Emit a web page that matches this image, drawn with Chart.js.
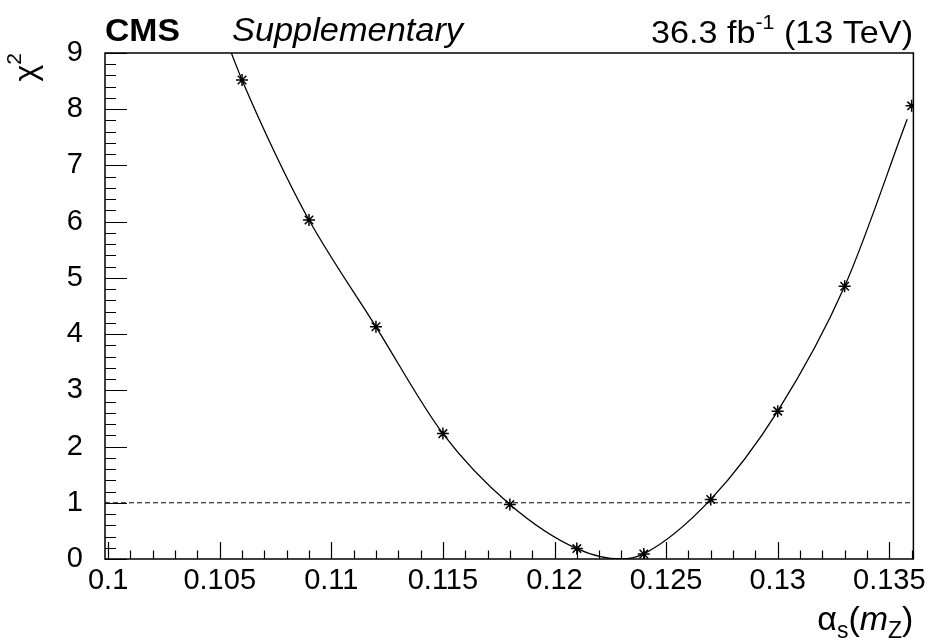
<!DOCTYPE html>
<html><head><meta charset="utf-8">
<script src="https://cdn.jsdelivr.net/npm/chart.js@4.4.1/dist/chart.umd.min.js"></script>
<style>html,body{margin:0;padding:0;background:#fff}#wrap{width:931px;height:641px;position:relative}</style>
</head><body><div id="wrap"><canvas id="c" width="931" height="641"></canvas></div>
<script>
// ---- data ----
const alphaS = [0.106, 0.109, 0.112, 0.115, 0.118, 0.121, 0.124, 0.127, 0.130, 0.133, 0.136];
const chi2   = [8.52, 6.03, 4.13, 2.23, 0.97, 0.185, 0.09, 1.06, 2.63, 4.85, 8.06];
const curveX = [0.10552, 0.106, 0.1075, 0.109, 0.112, 0.115, 0.118, 0.121, 0.1230, 0.124, 0.127, 0.130, 0.133, 0.1358];
const curveY = [9.0, 8.52, 7.20, 6.03, 4.13, 2.23, 0.97, 0.185, 0.0, 0.09, 1.06, 2.63, 4.85, 7.82];
const xRange = [0.09986, 0.13608];
const yRange = [0, 9];
const refLineY = [1, 1];
const xTicks = [0.1, 0.105, 0.11, 0.115, 0.12, 0.125, 0.13, 0.135];
const xTickLabels = ['0.1', '0.105', '0.11', '0.115', '0.12', '0.125', '0.13', '0.135'];
const yTicks = [0, 1, 2, 3, 4, 5, 6, 7, 8, 9];
const yTickLabels = ['0', '1', '2', '3', '4', '5', '6', '7', '8', '9'];

const F = '"Liberation Sans", Arial, Helvetica, sans-serif';

const decor = {
  id: 'decor',
  afterDraw(chart) {
    const { ctx, chartArea: a, scales: { x, y } } = chart;
    ctx.save();
    ctx.strokeStyle = '#000';
    ctx.lineWidth = 1.2;
    ctx.beginPath();
    const xs = xTicks[1] - xTicks[0];
    for (let v = xTicks[0] - xs; v <= xRange[1] + 1e-9; v += xs / 5) {
      if (v < xRange[0] - 1e-9) continue;
      const k = Math.round((v - xTicks[0]) / (xs / 5));
      const major = k % 5 === 0;
      const px = Math.round(x.getPixelForValue(v)) + 0.5;
      ctx.moveTo(px, a.bottom);
      ctx.lineTo(px, a.bottom - (major ? 17 : 8.5));
    }
    const ys = yTicks[1] - yTicks[0];
    for (let v = yRange[0]; v <= yRange[1] + 1e-9; v += ys / 5) {
      const k = Math.round((v - yTicks[0]) / (ys / 5));
      const major = k % 5 === 0;
      const py = Math.round(y.getPixelForValue(v)) + 0.5;
      ctx.moveTo(a.left, py);
      ctx.lineTo(a.left + (major ? 22 : 11), py);
    }
    ctx.stroke();
    ctx.lineWidth = 1.5;
    ctx.strokeRect(a.left, a.top, a.right - a.left, a.bottom - a.top);

    ctx.fillStyle = '#000';
    ctx.textBaseline = 'alphabetic';
    stretch(ctx, [['CMS', 'bold 32px ' + F, 0]], a.left, 41, 75);
    stretch(ctx, [['Supplementary', 'italic 33px ' + F, 0]], 232, 41, 231);
    stretch(ctx, [['36.3 fb', '32px ' + F, 0], ['-1', '20px ' + F, -14], [' (13 TeV)', '32px ' + F, 0]], 651, 43, 262);

    // y title chi^2 (rotated)
    ctx.save();
    ctx.translate(36, a.top);
    ctx.rotate(-Math.PI / 2);
    ctx.font = '32px ' + F;
    const wchi = ctx.measureText('χ').width;
    ctx.font = '21px ' + F;
    const w2 = ctx.measureText('2').width;
    ctx.textAlign = 'left';
    ctx.font = '32px ' + F;
    ctx.fillText('χ', -(wchi + w2), 0);
    ctx.font = '21px ' + F;
    ctx.fillText('2', -w2, -15);
    ctx.restore();

    // x title alpha_s(m_Z)
    const parts = [['α', '34px ' + F, 0], ['s', '23px ' + F, 8], ['(', '34px ' + F, 0], ['m', 'italic 34px ' + F, 0], ['Z', '23px ' + F, 8], [')', '34px ' + F, 0]];
    let tot = 0;
    for (const p of parts) { ctx.font = p[1]; tot += ctx.measureText(p[0]).width; }
    let cx = a.right - tot;
    for (const p of parts) { ctx.font = p[1]; ctx.fillText(p[0], cx, 630 + p[2]); cx += ctx.measureText(p[0]).width; }
    ctx.restore();
  }
};

function stretch(ctx, parts, x, y, w) {
  let tot = 0;
  for (const p of parts) { ctx.font = p[1]; tot += ctx.measureText(p[0]).width; }
  ctx.save();
  ctx.translate(x, y);
  ctx.scale(w / tot, 1);
  ctx.textAlign = 'left';
  let cx = 0;
  for (const p of parts) { ctx.font = p[1]; ctx.fillText(p[0], cx, p[2]); cx += ctx.measureText(p[0]).width; }
  ctx.restore();
}

const pts = alphaS.map((v, i) => ({ x: v, y: chi2[i] }));
const curve = curveX.map((v, i) => ({ x: v, y: curveY[i] }));
const ref = xRange.map((v, i) => ({ x: v, y: refLineY[i] }));

new Chart(document.getElementById('c'), {
  type: 'scatter',
  data: {
    datasets: [
      { data: ref, showLine: true, borderColor: '#000', borderWidth: 1, borderDash: [5, 3], pointRadius: 0, fill: false },
      { data: curve, showLine: true, borderColor: '#000', borderWidth: 1.3, pointRadius: 0, cubicInterpolationMode: 'monotone', fill: false },
      { data: pts, pointStyle: 'star', pointRadius: 6, borderColor: '#000', backgroundColor: '#000', pointBorderWidth: 1.5, showLine: false }
    ]
  },
  options: {
    responsive: false,
    animation: false,
    events: [],
    layout: { padding: { top: 53, right: 14, left: 0, bottom: 0 } },
    plugins: { legend: { display: false }, tooltip: { enabled: false } },
    scales: {
      x: {
        type: 'linear', min: xRange[0], max: xRange[1],
        grid: { display: false, drawTicks: false }, border: { display: false },
        ticks: { font: { family: F, size: 29 }, color: '#000', padding: 5, maxRotation: 0, autoSkip: false,
          callback: (v, i) => xTickLabels[i] },
        afterBuildTicks: s => { s.ticks = xTicks.map(v => ({ value: v })); },
        afterFit: s => { s.height = 82; }
      },
      y: {
        type: 'linear', min: yRange[0], max: yRange[1],
        grid: { display: false, drawTicks: false }, border: { display: false },
        ticks: { font: { family: F, size: 29 }, color: '#000', padding: 22, autoSkip: false,
          callback: (v, i) => yTickLabels[i] },
        afterBuildTicks: s => { s.ticks = yTicks.map(v => ({ value: v })); },
        afterFit: s => { s.width = 105; }
      }
    }
  },
  plugins: [decor]
});
</script></body></html>
